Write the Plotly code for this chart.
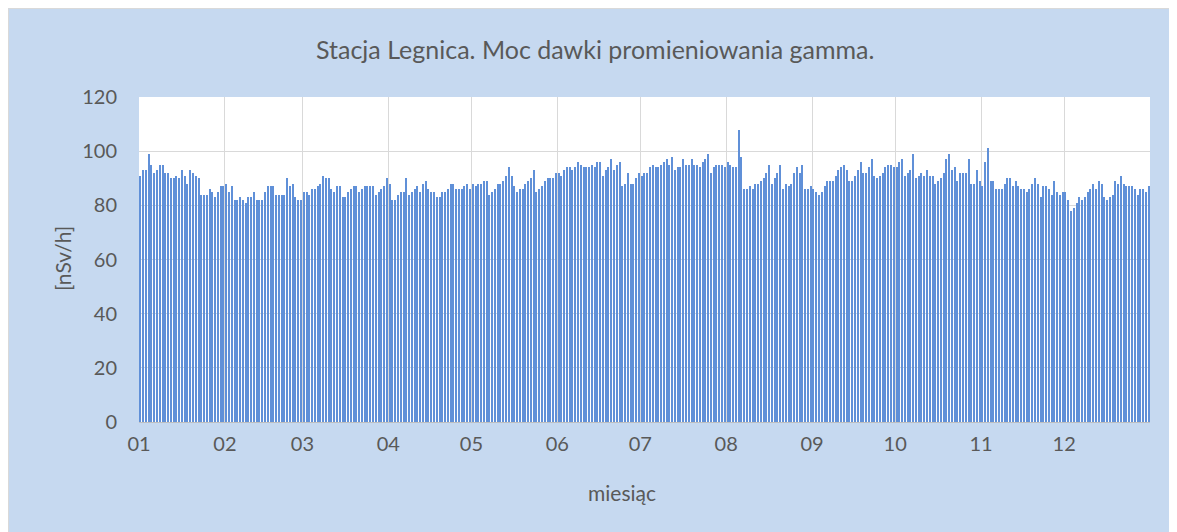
import pandas as pd
import plotly.graph_objects as go

# Daily gamma dose rate [nSv/h], one list per month
jan = [91, 93, 93, 99, 95, 92, 93, 95, 95, 92, 92, 90, 90, 91, 90, 93, 91, 88, 93, 92,
       91, 90, 84, 84, 84, 86, 85, 83, 85, 87, 87]
feb = [88, 85, 87, 82, 82, 83, 82, 81, 83, 83, 85, 82, 82, 82, 85, 87, 87, 87, 84, 84,
       84, 84, 90, 87, 88, 83, 82, 82]
mar = [85, 85, 84, 86, 86, 87, 88, 91, 90, 90, 86, 85, 87, 87, 83, 83, 85, 86, 87, 87,
       85, 86, 87, 87, 87, 87, 84, 85, 86, 87, 90]
apr = [88, 82, 82, 84, 85, 85, 90, 84, 85, 86, 87, 85, 88, 89, 86, 85, 85, 83, 83, 85,
       85, 86, 88, 88, 86, 86, 86, 87, 88, 86]
may = [88, 87, 88, 88, 89, 89, 84, 85, 86, 88, 88, 89, 91, 94, 91, 87, 85, 86, 86, 88,
       89, 90, 93, 85, 86, 87, 89, 90, 90, 90, 92]
jun = [92, 91, 93, 94, 94, 93, 94, 96, 95, 94, 94, 94, 95, 94, 96, 96, 91, 93, 94, 97,
       93, 95, 96, 87, 88, 92, 88, 88, 90, 92]
jul = [91, 92, 92, 94, 95, 94, 94, 95, 96, 97, 95, 98, 93, 94, 94, 97, 95, 95, 97, 95,
       95, 94, 96, 97, 99, 92, 94, 95, 95, 95, 94]
aug = [96, 95, 94, 94, 108, 98, 86, 86, 87, 86, 88, 88, 89, 90, 92, 95, 88, 90, 92, 95,
       86, 88, 87, 88, 92, 94, 92, 95, 86, 86, 87]
sep = [86, 85, 84, 85, 87, 89, 89, 89, 91, 93, 94, 95, 93, 89, 89, 91, 93, 96, 92, 92,
       94, 97, 91, 90, 91, 92, 94, 95, 95, 94]
oct_ = [94, 96, 97, 91, 92, 93, 99, 90, 91, 92, 91, 93, 91, 91, 88, 89, 90, 92, 97, 99,
        93, 94, 89, 92, 92, 92, 97, 88, 88, 93, 89]
nov = [87, 96, 101, 89, 89, 86, 86, 86, 88, 90, 90, 87, 89, 87, 86, 86, 85, 86, 88, 90,
       88, 83, 87, 87, 86, 84, 89, 85, 84, 85]
dec = [85, 82, 78, 79, 81, 83, 82, 83, 85, 86, 88, 86, 89, 88, 83, 82, 83, 84, 89, 88,
       91, 88, 87, 87, 87, 86, 84, 86, 86, 85, 87]

month_labels = ["01", "02", "03", "04", "05", "06", "07", "08", "09", "10", "11", "12"]
title_text = "Stacja Legnica. Moc dawki promieniowania gamma."
x_title = "miesiąc"
y_title = "[nSv/h]"

values = jan + feb + mar + apr + may + jun + jul + aug + sep + oct_ + nov + dec
dates = pd.date_range("2023-01-01", periods=len(values), freq="D")
day_index = list(range(len(values)))
month_starts = [i - 0.5 for i, d in enumerate(dates) if d.day == 1]

# page has an 8px body margin; figure is sized to fit the 1177x532 window
OFF = 8
W, H = 1177 - OFF, 532 - OFF
# plot area in page pixels
L, R, T, B = 139, 1150, 97, 422
def px(xp):
    return (xp - L) / (R - L)
def py(yp):
    return (B - yp) / (B - T)

TXT = "#595959"
FONT = "Lato"
BG = "#C6D9F0"

fig = go.Figure()
fig.add_trace(go.Bar(
    x=day_index, y=values, width=0.38,
    marker=dict(color="#6090D8", line=dict(width=0)),
    showlegend=False,
))

fig.update_layout(
    width=W, height=H,
    margin=dict(l=L - OFF, r=W - (R - OFF), t=T - OFF, b=H - (B - OFF), pad=0),
    paper_bgcolor=BG, plot_bgcolor="white",
    font=dict(family=FONT, color=TXT, size=20),
    bargap=0,
    xaxis=dict(
        range=[-0.5, len(values) - 0.5],
        tickmode="array", tickvals=month_starts, ticktext=month_labels,
        showgrid=True, gridcolor="#D9D9D9", gridwidth=1,
        showline=True, linecolor="#BFBFBF", linewidth=1,
        ticks="", zeroline=False,
        tickfont=dict(size=20, color=TXT, family=FONT),
        ticklabelstandoff=4,
    ),
    yaxis=dict(
        range=[0, 120], dtick=20, tick0=0,
        showgrid=True, gridcolor="#D9D9D9", gridwidth=1,
        zeroline=False, showline=False, ticks="",
        tickfont=dict(size=20, color=TXT, family=FONT),
        ticklabelstandoff=21,
    ),
    annotations=[
        dict(text=title_text, xref="paper", yref="paper", x=px(595), y=py(49),
             xanchor="center", yanchor="middle", showarrow=False,
             font=dict(size=25, color=TXT, family=FONT)),
        dict(text=x_title, xref="paper", yref="paper", x=px(622), y=py(492),
             xanchor="center", yanchor="middle", showarrow=False,
             font=dict(size=21, color=TXT, family=FONT)),
        dict(text=y_title, xref="paper", yref="paper", x=px(62), y=py(259),
             xanchor="center", yanchor="middle", showarrow=False, textangle=-90,
             font=dict(size=21, color=TXT, family=FONT)),
    ],
    shapes=[
        dict(type="line", xref="paper", yref="paper", x0=px(8.5), x1=px(8.5),
             y0=py(8.5), y1=py(540), line=dict(color="#D9D9D9", width=1), layer="above"),
        dict(type="line", xref="paper", yref="paper", x0=px(8.5), x1=px(1185),
             y0=py(8.5), y1=py(8.5), line=dict(color="#D9D9D9", width=1), layer="above"),
    ],
)

fig.write_html("out.html")
